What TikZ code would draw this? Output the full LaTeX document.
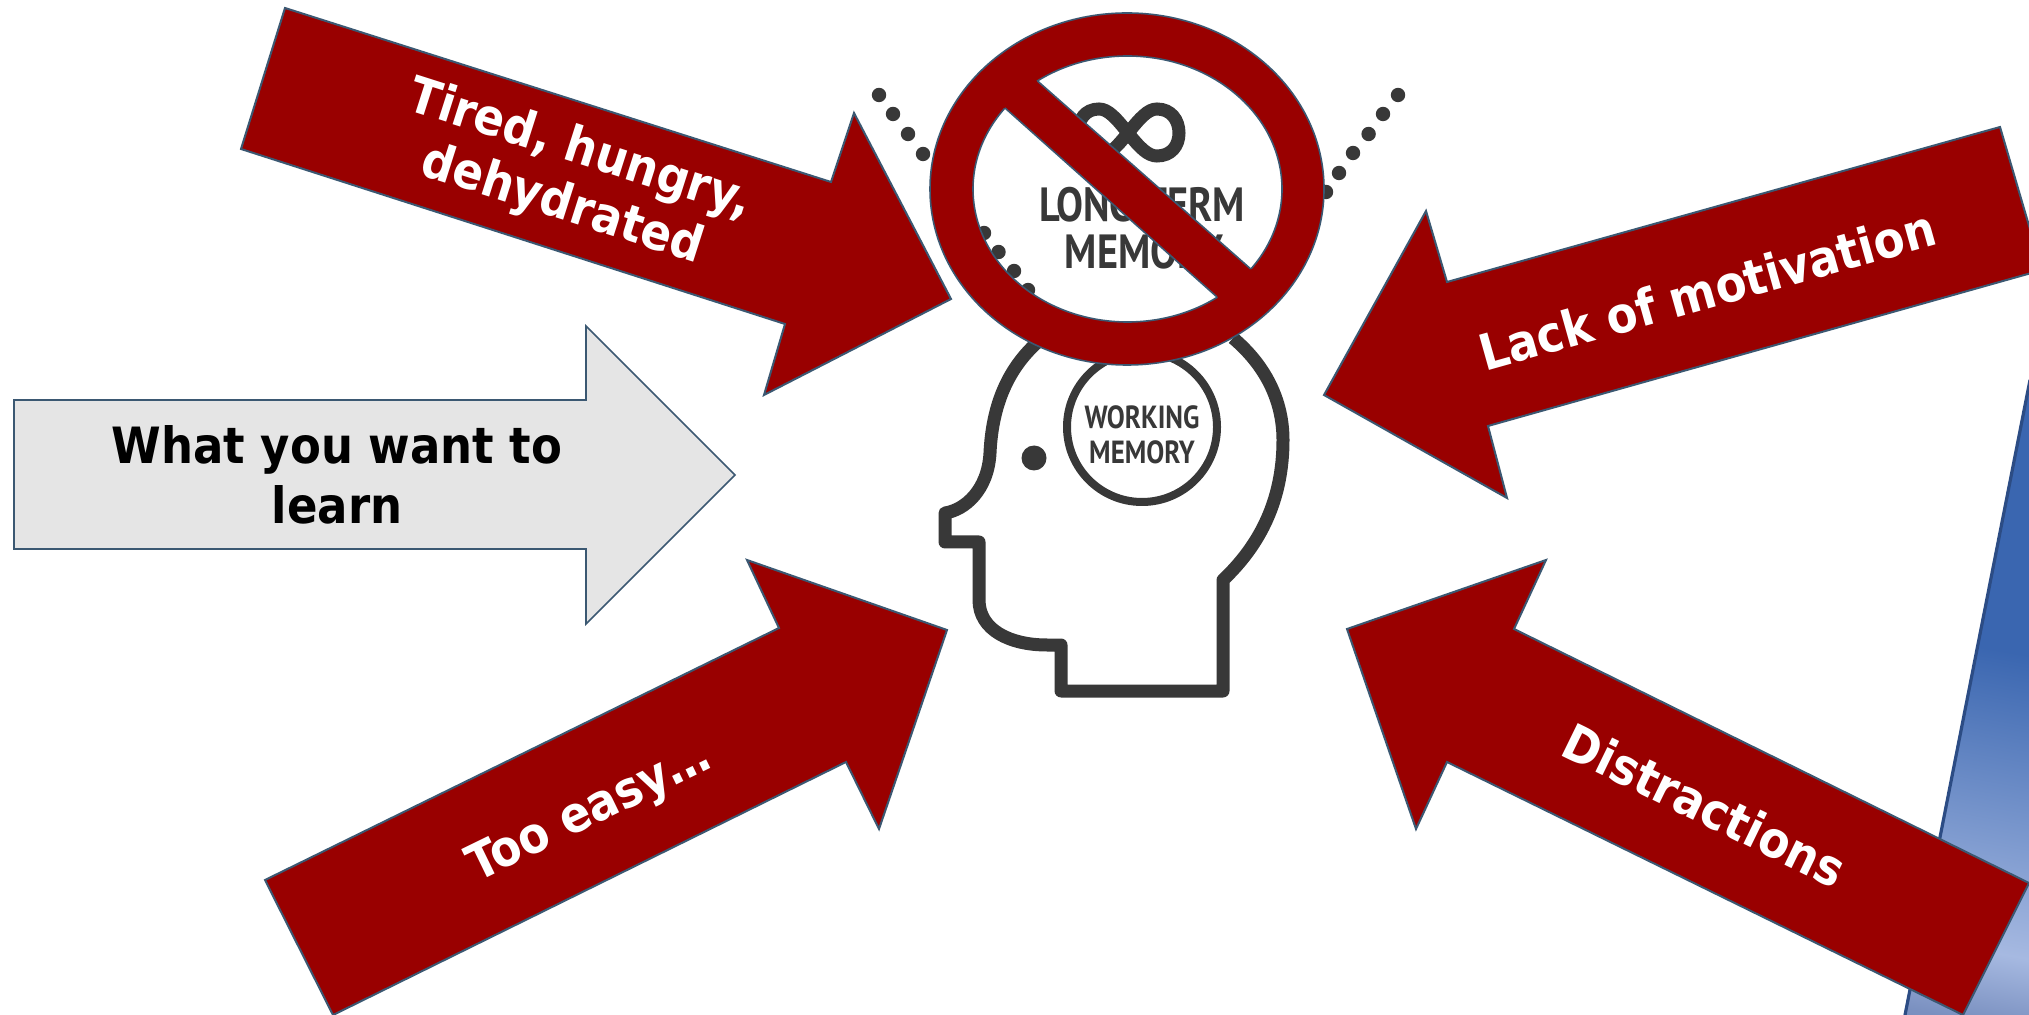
\documentclass[tikz,border=0pt]{standalone}
\usepackage{fontspec}
\setmainfont{DejaVu Sans Condensed}
\newfontfamily\dinfont[FakeStretch=0.84]{PT Sans}
\definecolor{banda}{HTML}{3A66B0}
\definecolor{bandb}{HTML}{A6B9E1}
\definecolor{bandc}{HTML}{7A90C0}
\definecolor{bandd}{HTML}{6A82B6}
\definecolor{darkred}{HTML}{990000}
\definecolor{edgeblue}{HTML}{3B5872}
\definecolor{headgrey}{HTML}{383838}
\pgfdeclareverticalshading{blueband}{100bp}{color(0bp)=(bandd);color(25bp)=(bandd);color(30.3bp)=(bandc);color(34.7bp)=(bandb);color(53.4bp)=(banda);color(100bp)=(banda)}
\tikzset{
  redarrow/.style={fill=darkred,draw=edgeblue,line width=1pt,line join=miter},
  greyarrow/.style={fill=black!10,draw=edgeblue,line width=0.8pt},
  whitelabel/.style={text=white,font=\bfseries\fontsize{25}{29}\selectfont,align=center,inner sep=0pt},
  blacklabel/.style={text=black,font=\bfseries\fontsize{25}{30}\selectfont,align=center,inner sep=0pt},
  headline/.style={draw=headgrey,line width=6.5pt,line join=round},
  memlarge/.style={text=headgrey,font=\dinfont\bfseries\fontsize{24}{24}\selectfont,inner sep=0pt},
  memsmall/.style={text=headgrey,font=\dinfont\bfseries\fontsize{16}{16}\selectfont,inner sep=0pt},
  dotmark/.style={fill=headgrey}
}
\begin{document}
\begin{tikzpicture}[x=0.5pt,y=-0.5pt]
\useasboundingbox (0,0) rectangle (2029,1015);
\fill[white] (0,0) rectangle (2029,1015);
% blue shape
\begin{scope}
\clip (2029,380) -- (1904,1015) -- (2029,1015) -- cycle;
\shade[shading=blueband,transform canvas={rotate around={-10:(1970,700)}}] (1600,300) rectangle (2350,1100);
\end{scope}
\draw[draw=banda!75!black,line width=1.6pt] (2030,380) -- (1905,1015);
% head
\draw[headline] (1040,340) .. controls (1005,370) and (992,410) .. (990,453)
  .. controls (988,490) and (965,510) .. (945,513) -- (945,542) -- (979,542) -- (979,600)
  .. controls (979,630) and (1010,645) .. (1047,645) -- (1061,645) -- (1061,691) -- (1223,691)
  -- (1223,580) .. controls (1260,545) and (1283,500) .. (1283,440)
  .. controls (1283,400) and (1265,365) .. (1233,338);
\draw[draw=headgrey,line width=4pt] (1142,427) circle [radius=75];
\fill[dotmark] (1034,458) circle [radius=12.5];
\node[memsmall] (wm1) at (1142,417) {WORKING};
\node[memsmall] (wm2) at (1142,452) {MEMORY};
% dots
\foreach \px/\py in {879/95,893/114,908/134,923/154,984/233,998.5/252,1014/271,1028/290,1398/95,1383/114,1368.6/134,1353/153,1339/173,1326/192}
  \fill[dotmark] (\px,\py) circle [radius=7.2];
% infinity
\draw[draw=headgrey,line width=6.5pt] (1128,133) .. controls (1140,118) and (1148,109) .. (1157,109)
  .. controls (1171,109) and (1179,120) .. (1179,133) .. controls (1179,146) and (1171,156) .. (1157,156)
  .. controls (1148,156) and (1140,148) .. (1128,133)
  .. controls (1116,118) and (1108,109) .. (1099,109) .. controls (1085,109) and (1078,120) .. (1078,133)
  .. controls (1078,146) and (1085,156) .. (1099,156) .. controls (1108,156) and (1116,148) .. (1128,133);
\node[memlarge] (lt1) at (1142,205) {LONG TERM};
\node[memlarge] (lt2) at (1144,252) {MEMORY};
% prohibition sign
\path[fill=darkred,draw=edgeblue,line width=0.8pt,even odd rule]
  (1127,189) ellipse [x radius=197,y radius=176]
  (1127.5,189) ellipse [x radius=154.5,y radius=133];
\fill[darkred] (1022,68) -- (990,95) -- (1232,310) -- (1266,282) -- cycle;
\draw[draw=edgeblue,line width=0.8pt] (1037.5,81) -- (1250.7,269) (1005,108) -- (1217,297);
% arrows
\draw[greyarrow] (14,400) -- (586,400) -- (586,326) -- (735,475) -- (586,624) -- (586,549) -- (14,549) -- cycle;
\draw[redarrow] (285,8) -- (831,182) -- (854,113) -- (951,299) -- (764,395) -- (785,324) -- (241,149) -- cycle;
\draw[redarrow] (2000,127) -- (1447,282) -- (1426,211) -- (1324,395) -- (1507,498) -- (1488,426) -- (2042,270) -- cycle;
\draw[redarrow] (265,880) -- (779,628) -- (747,560) -- (947,630) -- (879,829) -- (846,762) -- (333,1015) -- cycle;
\draw[redarrow] (2029,883) -- (1514,629) -- (1546,560) -- (1347,629) -- (1416,829) -- (1447,762) -- (1963,1015) -- cycle;
% labels
\node[blacklabel] (want) at (337,475) {What you want to\\learn};
\node[whitelabel,rotate=-17.7] (tired) at (571,178) {Tired, hungry,\\dehydrated};
\node[whitelabel,rotate=15.7] (lack) at (1707,290) {Lack of motivation};
\node[whitelabel,rotate=26] (easy) at (590,813) {Too easy…};
\node[whitelabel,rotate=-26] (dist) at (1705,805) {Distractions};
\end{tikzpicture}
\end{document}
